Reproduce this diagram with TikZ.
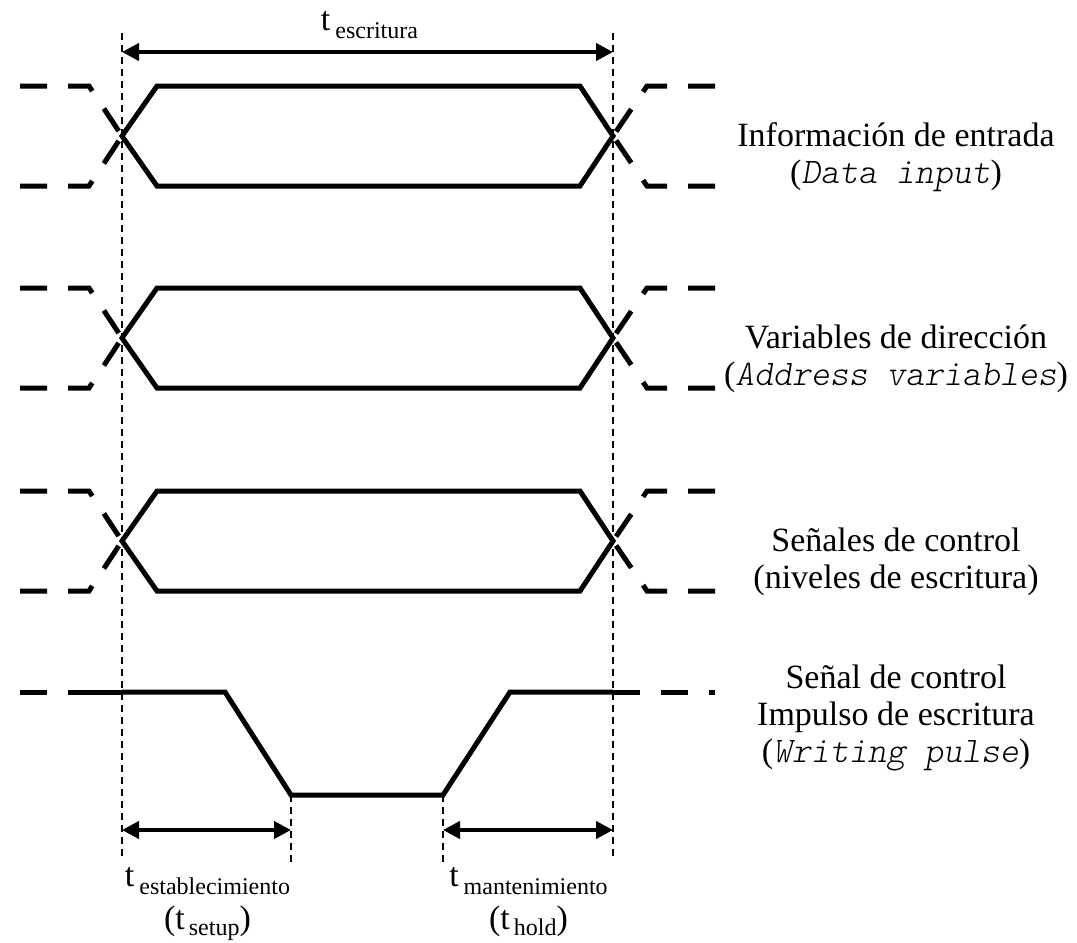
\documentclass[tikz,border=0pt]{standalone}
\usepackage{fontspec}
\setmainfont{Liberation Serif}
\newfontfamily\codefont{lmmonolt10-oblique.otf}
\usetikzlibrary{arrows.meta}
% lowered, smaller subscript text for the time labels
\newcommand\tsub[2][-8pt]{\raisebox{#1}{\fontsize{24}{24}\selectfont #2}}
\newcommand\code[1]{{\fontsize{36}{38}\codefont #1}}

\begin{document}
\begin{tikzpicture}[x=1pt,y=-1pt,
  bus/.style={line width=5pt, line join=miter},
  stub/.style={line width=5pt, dash pattern=on 27pt off 21pt},
  leadin/.style={line width=5pt, dash pattern=on 27pt off 21pt on 200pt off 0pt},
  guide/.style={line width=1.6pt, dash pattern=on 7pt off 5pt},
  span/.style={line width=4pt,
    {Triangle[length=17pt,width=17pt]}-{Triangle[length=17pt,width=17pt]}},
  lbl/.style={font=\fontsize{34}{38}\selectfont, inner sep=0pt, anchor=base},
]
\useasboundingbox (0,0) rectangle (1077,943);

% vertical timing guides
\coordinate (gLt) at (122,33);  \coordinate (gLb) at (122,858);
\coordinate (gRt) at (613,33);  \coordinate (gRb) at (613,858);
\coordinate (gSt) at (291,795); \coordinate (gSb) at (291,863);
\coordinate (gHt) at (443,795); \coordinate (gHb) at (443,862);
\draw[guide] (gLt) -- (gLb);
\draw[guide] (gRt) -- (gRb);
\draw[guide] (gSt) -- (gSb);
\draw[guide] (gHt) -- (gHb);

% write time
\coordinate (wA) at (122,52); \coordinate (wB) at (613,52);
\draw[span] (wA) -- (wB);
\node[lbl] (tw) at (369.5,30) {t\hspace{5pt}\tsub{escritura}};

% bus signals with their undefined neighbours
\foreach \c/\n in {136/a,338/b,541/c}{
  \coordinate (\n L) at (122,\c);
  \coordinate (\n R) at (613,\c);
  \draw[bus] (\n L) -- (157,{\c-50}) -- (580,{\c-50}) -- (\n R)
             -- (580,{\c+50}) -- (157,{\c+50}) -- cycle;
  \draw[stub] (20,{\c-50}) -- (89,{\c-50}) -- (\n L);
  \draw[stub] (20,{\c+50}) -- (89,{\c+50}) -- (\n L);
  \draw[stub] (715,{\c-50}) -- (647,{\c-50}) -- (\n R);
  \draw[stub] (715,{\c+50}) -- (647,{\c+50}) -- (\n R);
}

% write pulse
\coordinate (pL) at (122,692); \coordinate (pR) at (613,692);
\draw[leadin] (20,692) -- (pL);
\draw[bus] (pL) -- (225,692) -- (gSt) -- (gHt) -- (510,692) -- (pR);
\draw[stub] (pR) -- (715,692);

% setup and hold times
\coordinate (sA) at (122,830); \coordinate (sB) at (291,830);
\coordinate (hA) at (443,830); \coordinate (hB) at (613,830);
\draw[span] (sA) -- (sB);
\draw[span] (hA) -- (hB);
\node[lbl] (ts1) at (207.5,886) {t\hspace{5pt}\tsub{establecimiento}};
\node[lbl] (ts2) at (207.5,929) {(t\hspace{4pt}\tsub[-6pt]{setup})};
\node[lbl] (th1) at (528.5,886) {t\hspace{5pt}\tsub{mantenimiento}};
\node[lbl] (th2) at (528.5,929) {(t\hspace{4pt}\tsub[-6pt]{hold})};

% signal names
\node[lbl] (la1) at (896,146) {Información de entrada};
\node[lbl] (la2) at (896,183) {(\code{Data input})};
\node[lbl] (lb1) at (896,348) {Variables de dirección};
\node[lbl] (lb2) at (896,385) {(\code{Address variables})};
\node[lbl] (lc1) at (896,551) {Señales de control};
\node[lbl] (lc2) at (896,588) {(niveles de escritura)};
\node[lbl] (ld1) at (896,688) {Señal de control};
\node[lbl] (ld2) at (896,725) {Impulso de escritura};
\node[lbl] (ld3) at (896,762) {(\code{Writing pulse})};
\end{tikzpicture}
\end{document}
